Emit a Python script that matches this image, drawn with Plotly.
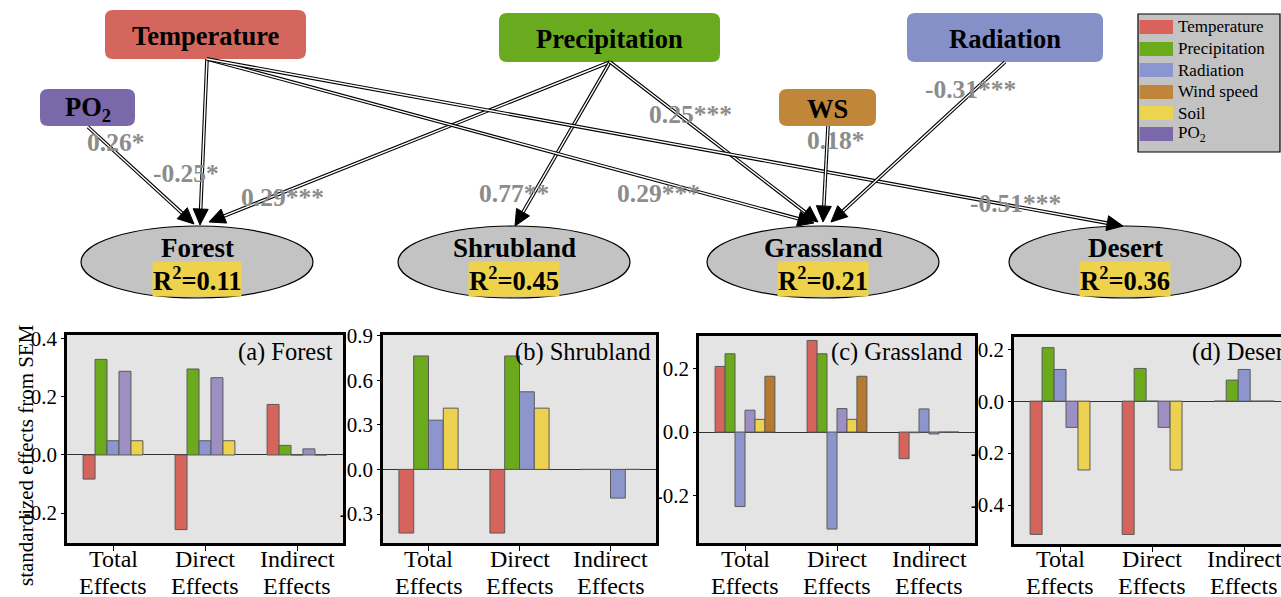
import math
import plotly.graph_objects as go

W, H = 1281, 597

# ---------------- data ----------------
categories = ["Total Effects", "Direct Effects", "Indirect Effects"]
cat_line1 = ["Total", "Direct", "Indirect"]
cat_line2 = ["Effects", "Effects", "Effects"]

forest_vals = {"Temperature": [-0.083, -0.257, 0.174],
               "Precipitation": [0.329, 0.296, 0.033],
               "Radiation": [0.049, 0.049, 0.0],
               "PO2": [0.288, 0.266, 0.021],
               "Soil": [0.049, 0.049, 0.0]}
shrub_vals = {"Temperature": [-0.428, -0.428, 0.0],
              "Precipitation": [0.763, 0.763, 0.0],
              "Radiation": [0.331, 0.522, -0.193],
              "Soil": [0.412, 0.412, 0.0]}
grass_vals = {"Temperature": [0.207, 0.289, -0.084],
              "Precipitation": [0.247, 0.247, -0.002],
              "Radiation": [-0.235, -0.306, 0.073],
              "PO2": [0.069, 0.074, -0.006],
              "Soil": [0.040, 0.040, 0.0],
              "Wind speed": [0.176, 0.176, 0.0]}
desert_vals = {"Temperature": [-0.513, -0.513, 0.0],
               "Precipitation": [0.206, 0.126, 0.081],
               "Radiation": [0.122, 0.0, 0.122],
               "PO2": [-0.101, -0.101, 0.0],
               "Soil": [-0.265, -0.265, 0.0]}

panel_titles = ["(a) Forest", "(b) Shrubland", "(c) Grassland", "(d) Desert"]
y_ticks_a = [-0.2, 0.0, 0.2, 0.4]
y_ticks_b = [-0.3, 0.0, 0.3, 0.6, 0.9]
y_ticks_c = [-0.2, 0.0, 0.2]
y_ticks_d = [-0.4, -0.2, 0.0, 0.2]

legend_names = ["Temperature", "Precipitation", "Radiation", "Wind speed", "Soil", "PO2"]
legend_labels = ["Temperature", "Precipitation", "Radiation", "Wind speed", "Soil", "PO<sub>2</sub>"]

# SEM diagram
driver_names = ["Temperature", "PO2", "Precipitation", "WS", "Radiation"]
driver_labels = ["Temperature", "PO<sub>2</sub>", "Precipitation", "WS", "Radiation"]
biome_names = ["Forest", "Shrubland", "Grassland", "Desert"]
biome_r2 = ["0.11", "0.45", "0.21", "0.36"]
path_from = ["PO2", "Temperature", "Precipitation", "Precipitation", "Precipitation",
             "Temperature", "Temperature", "WS", "Radiation"]
path_to = ["Forest", "Forest", "Forest", "Shrubland", "Grassland",
           "Grassland", "Desert", "Grassland", "Grassland"]
path_coef = ["0.26*", "-0.25*", "0.29***", "0.77**", "0.25***",
             "0.29***", "-0.51***", "0.18*", "-0.31***"]

# ---------------- styles / layout positions (pixels) ----------------
bar_colors = {"Temperature": "#d4645c", "Precipitation": "#6aaa1c", "Radiation": "#8c96cc",
              "PO2": "#9d8fc2", "Soil": "#ecd250", "Wind speed": "#b5792f"}
legend_colors = {"Temperature": "#d9625a", "Precipitation": "#6aab1a", "Radiation": "#8a96d0",
                 "Wind speed": "#c0843a", "Soil": "#ecd44f", "PO2": "#7b68a8"}
box_colors = {"Temperature": "#d4665e", "PO2": "#7a68aa", "Precipitation": "#6aaa1e",
              "WS": "#c0863a", "Radiation": "#8690c8"}
box_rects = {"Temperature": (105, 10, 306, 59), "PO2": (40, 89, 135, 126),
             "Precipitation": (499, 13, 720, 62), "WS": (779, 89, 876, 126),
             "Radiation": (907, 13, 1103, 62)}
ellipse_cx = {"Forest": 197, "Shrubland": 514, "Grassland": 823, "Desert": 1125}
ELL_CY, ELL_RX, ELL_RY = 262, 116, 36
path_start = [(88, 127), (207, 59), (610, 62), (610, 62), (610, 62),
              (207, 59), (207, 59), (828, 126), (1005, 62)]
path_tip = [(194, 224), (200, 225), (209, 222), (515, 226), (818, 222),
            (814, 223), (1123, 226), (823, 222), (831, 222)]
label_pos = [(115, 142), (186, 173), (282, 197), (514, 193), (690, 115),
             (658, 193), (1015, 203), (836, 140), (971, 90)]

panel_px = [(67, 343, 335, 543), (383, 656, 335, 543), (699, 975, 336, 543), (1014, 1281, 337, 544)]
panel_yrange = [(-0.303, 0.413), (-0.495, 0.904), (-0.35, 0.303), (-0.55, 0.247)]
panel_xrange = [(-0.5, 2.5), (-0.5, 2.5), (-0.5, 2.5), (-0.5, 2.40)]
title_pos = [(335, "right"), (652, "right"), (964, "right"), (1190, "left")]

SERIF = "Liberation Serif"


def px(x):
    return x / W


def py(y):
    return 1 - y / H


fig = go.Figure()
panels = [forest_vals, shrub_vals, grass_vals, desert_vals]
yticks_all = [y_ticks_a, y_ticks_b, y_ticks_c, y_ticks_d]
annotations = []
shapes = []

for i, vals in enumerate(panels):
    sfx = "" if i == 0 else str(i + 1)
    for name, v in vals.items():
        fig.add_trace(go.Bar(x=categories, y=v, name=name, showlegend=False,
                             marker=dict(color=bar_colors[name], line=dict(color="#5a5a5a", width=1)),
                             xaxis="x" + sfx, yaxis="y" + sfx))
    x0, x1, y0, y1 = panel_px[i]
    fig.layout["xaxis" + sfx] = dict(
        domain=[px(x0), min(1.0, px(x1))], anchor="y" + sfx, range=list(panel_xrange[i]),
        showline=True, linecolor="black", linewidth=2.5, mirror=True, automargin=False,
        ticks="outside", ticklen=5, tickcolor="black", showgrid=False, showticklabels=False,
        fixedrange=True)
    fig.layout["yaxis" + sfx] = dict(
        domain=[py(y1), py(y0)], anchor="x" + sfx, range=list(panel_yrange[i]),
        tickvals=yticks_all[i], ticktext=["%.1f" % t for t in yticks_all[i]],
        showline=True, linecolor="black", linewidth=2.5, mirror=True, automargin=False,
        ticks="outside", ticklen=3, tickcolor="black", showgrid=False,
        zeroline=True, zerolinecolor="#333333", zerolinewidth=1.2,
        tickfont=dict(family=SERIF, size=21, color="black"), fixedrange=True)
    # two-line category labels
    for c, l1, l2 in zip(categories, cat_line1, cat_line2):
        annotations.append(dict(x=c, y=py(559), xref="x" + sfx, yref="paper", text=l1, showarrow=False,
                                xanchor="center", yanchor="middle",
                                font=dict(family=SERIF, size=24, color="black")))
        annotations.append(dict(x=c, y=py(586), xref="x" + sfx, yref="paper", text=l2, showarrow=False,
                                xanchor="center", yanchor="middle",
                                font=dict(family=SERIF, size=24, color="black")))

# panel titles
for i, t in enumerate(panel_titles):
    xx, anc = title_pos[i]
    annotations.append(dict(x=px(xx), y=py(352), xref="paper", yref="paper", text=t,
                            showarrow=False, xanchor=anc, yanchor="middle",
                            font=dict(family=SERIF, size=24.5, color="black")))
# y axis title
annotations.append(dict(x=px(26), y=py(455), xref="paper", yref="paper",
                        text="standardized effects from SEM", textangle=-90, showarrow=False,
                        xanchor="center", yanchor="middle",
                        font=dict(family=SERIF, size=21, color="black")))


def rrect_path(x0, y0, x1, y1, r):
    pts = [("M", [(x0 + r, y0)]), ("L", [(x1 - r, y0)]), ("Q", [(x1, y0), (x1, y0 + r)]),
           ("L", [(x1, y1 - r)]), ("Q", [(x1, y1), (x1 - r, y1)]), ("L", [(x0 + r, y1)]),
           ("Q", [(x0, y1), (x0, y1 - r)]), ("L", [(x0, y0 + r)]), ("Q", [(x0, y0), (x0 + r, y0)])]
    s = ""
    for cmd, ps in pts:
        s += cmd + " " + " ".join("%.5f,%.5f" % (px(a), py(b)) for a, b in ps) + " "
    return s + "Z"


# driver boxes
for name, lab in zip(driver_names, driver_labels):
    x0, y0, x1, y1 = box_rects[name]
    shapes.append(dict(type="path", xref="paper", yref="paper", path=rrect_path(x0, y0, x1, y1, 8),
                       fillcolor=box_colors[name], line=dict(width=0), layer="above"))
    annotations.append(dict(x=px((x0 + x1) / 2), y=py((y0 + y1) / 2 + 1), xref="paper", yref="paper",
                            text="<b>%s</b>" % lab, showarrow=False, xanchor="center", yanchor="middle",
                            font=dict(family=SERIF, size=26.5, color="black")))

# biome ellipses
for name, r2 in zip(biome_names, biome_r2):
    cx = ellipse_cx[name]
    shapes.append(dict(type="circle", xref="paper", yref="paper",
                       x0=px(cx - ELL_RX), x1=px(cx + ELL_RX), y0=py(ELL_CY + ELL_RY), y1=py(ELL_CY - ELL_RY),
                       fillcolor="#c3c3c3", line=dict(color="black", width=1.2), layer="above"))
    annotations.append(dict(x=px(cx), y=py(248), xref="paper", yref="paper", text="<b>%s</b>" % name,
                            showarrow=False, xanchor="center", yanchor="middle",
                            font=dict(family=SERIF, size=27, color="black")))
    annotations.append(dict(x=px(cx), y=py(279), xref="paper", yref="paper",
                            text="<b>R<sup>2</sup>=%s</b>" % r2, showarrow=False,
                            xanchor="center", yanchor="middle", bgcolor="#eed24c", borderpad=0,
                            font=dict(family=SERIF, size=26.5, color="black")))

# arrows (double-line shafts + filled heads)
AL, AW = 16, 7.5
for (sx, sy), (tx, ty) in zip(path_start, path_tip):
    dx, dy = tx - sx, ty - sy
    L = math.hypot(dx, dy)
    ux, uy = dx / L, dy / L
    bx, by = tx - ux * AL, ty - uy * AL
    shapes.append(dict(type="line", xref="paper", yref="paper", x0=px(sx), y0=py(sy), x1=px(bx), y1=py(by),
                       line=dict(color="black", width=3.6), layer="above"))
    shapes.append(dict(type="line", xref="paper", yref="paper", x0=px(sx), y0=py(sy), x1=px(bx), y1=py(by),
                       line=dict(color="white", width=1.4), layer="above"))
    nx, ny = -uy, ux
    p1 = (bx + nx * AW, by + ny * AW)
    p2 = (bx - nx * AW, by - ny * AW)
    path = "M %.5f,%.5f L %.5f,%.5f L %.5f,%.5f Z" % (px(tx), py(ty), px(p1[0]), py(p1[1]), px(p2[0]), py(p2[1]))
    shapes.append(dict(type="path", xref="paper", yref="paper", path=path, fillcolor="black",
                       line=dict(color="black", width=1), layer="above"))

for (lx, ly), c in zip(label_pos, path_coef):
    annotations.append(dict(x=px(lx), y=py(ly), xref="paper", yref="paper", text="<b>%s</b>" % c,
                            showarrow=False, xanchor="center", yanchor="middle",
                            font=dict(family=SERIF, size=25.5, color="#8c8c8c")))

# legend box
shapes.append(dict(type="rect", xref="paper", yref="paper", x0=px(1138), x1=px(1280), y0=py(152), y1=py(14),
                   fillcolor="#c3c3c3", line=dict(color="black", width=1.2), layer="above"))
legend_rows = [27, 49, 70, 92, 113, 134]
for name, lab, ry in zip(legend_names, legend_labels, legend_rows):
    shapes.append(dict(type="rect", xref="paper", yref="paper", x0=px(1139.5), x1=px(1173), y0=py(ry + 7),
                       y1=py(ry - 7), fillcolor=legend_colors[name], line=dict(width=0), layer="above"))
    annotations.append(dict(x=px(1176), y=py(ry), xref="paper", yref="paper", text=lab, showarrow=False,
                            xanchor="left", yanchor="middle", font=dict(family=SERIF, size=17, color="black")))

fig.update_layout(width=W, height=H, autosize=False, margin=dict(l=0, r=0, t=0, b=0, pad=0, autoexpand=False),
                  paper_bgcolor="white", plot_bgcolor="#e4e4e4", barmode="group",
                  bargap=0.35, bargroupgap=0, shapes=shapes, annotations=annotations,
                  showlegend=False, hovermode=False)

fig.write_html("out.html", config={"displayModeBar": False},
               post_script="document.body.style.margin='0';document.body.style.overflow='hidden';")
